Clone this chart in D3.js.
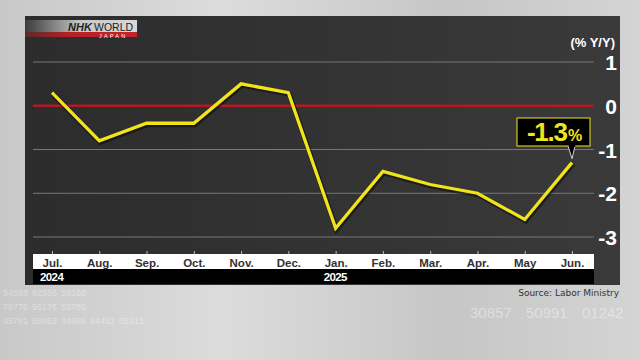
<!DOCTYPE html>
<html><head><meta charset="utf-8">
<script src="https://cdn.jsdelivr.net/npm/d3@7"></script>
<style>html,body{margin:0;padding:0;background:#c4c4c4;}svg{display:block;}</style>
</head><body>
<svg id="c" width="640" height="360"></svg>
<script>
const months = ["Jul.","Aug.","Sep.","Oct.","Nov.","Dec.","Jan.","Feb.","Mar.","Apr.","May","Jun."];
const years = [{i:0,label:"2024"},{i:6,label:"2025"}];
const values = [0.3,-0.8,-0.4,-0.4,0.5,0.3,-2.8,-1.5,-1.8,-2.0,-2.6,-1.3];
const yTicks = [1,0,-1,-2,-3];
const unitLabel = "(% Y/Y)";
const source = "Source: Labor Ministry";
const callout = {value:"-1.3", unit:"%"};
const decoRows = [["54588","92555","50168"],["78776","56176","53785"],["45791","58052","34986","84452","05315"]];
const decoRight = ["30857","50991","01242"];

const F = "Liberation Sans, Arial, sans-serif";
const svg = d3.select("#c");
const defs = svg.append("defs");
const bg = defs.append("linearGradient").attr("id","bg").attr("x1",0).attr("y1",0).attr("x2",1).attr("y2",0);
bg.append("stop").attr("offset","0").attr("stop-color","#c8c8c8");
bg.append("stop").attr("offset","0.35").attr("stop-color","#dcdcdc");
bg.append("stop").attr("offset","0.7").attr("stop-color","#c6c6c6");
bg.append("stop").attr("offset","1").attr("stop-color","#d4d4d4");
svg.append("rect").attr("width",640).attr("height",360).attr("fill","url(#bg)");

// faint decorative digits
const dg = svg.append("g").attr("font-family",F).attr("fill","#fff").attr("fill-opacity",0.4);
decoRows.forEach((row,r)=>{
  dg.selectAll(null).data(row).join("text")
    .attr("x",(d,i)=>3+i*29).attr("y",296+r*14).attr("font-size",9).text(d=>d);
});
dg.selectAll(null).data(decoRight).join("text")
  .attr("x",(d,i)=>470+i*56).attr("y",318).attr("font-size",15).text(d=>d);

const pg = defs.append("linearGradient").attr("id","pg").attr("x1",0).attr("y1",0).attr("x2",1).attr("y2",0);
pg.append("stop").attr("offset","0").attr("stop-color","#2c2c2c");
pg.append("stop").attr("offset","0.6").attr("stop-color","#343434");
pg.append("stop").attr("offset","1").attr("stop-color","#3a3a3a");
svg.append("rect").attr("x",25).attr("y",16).attr("width",595).attr("height",269).attr("fill","url(#pg)");

// logo
const lg = defs.append("linearGradient").attr("id","lg").attr("x1",0).attr("y1",0).attr("x2",1).attr("y2",0);
lg.append("stop").attr("offset","0").attr("stop-color","#3a3a3a");
lg.append("stop").attr("offset","0.5").attr("stop-color","#c8c8c8");
lg.append("stop").attr("offset","1").attr("stop-color","#d8d8d8");
svg.append("rect").attr("x",25).attr("y",20).attr("width",112).attr("height",12).attr("fill","url(#lg)");
const rg = defs.append("linearGradient").attr("id","rg").attr("x1",0).attr("y1",0).attr("x2",1).attr("y2",0);
rg.append("stop").attr("offset","0").attr("stop-color","#5a2a2a");
rg.append("stop").attr("offset","0.4").attr("stop-color","#b82025");
rg.append("stop").attr("offset","1").attr("stop-color","#c8202a");
svg.append("rect").attr("x",25).attr("y",32).attr("width",112).attr("height",5).attr("fill","url(#rg)");
svg.append("text").attr("x",68).attr("y",30.5).attr("font-family",F)
  .attr("font-size",11).attr("font-weight","bold").attr("font-style","italic").attr("fill","#222").text("NHK");
svg.append("text").attr("x",94).attr("y",30.5).attr("font-family",F)
  .attr("font-size",10.5).attr("fill","#222").text("WORLD");
svg.append("text").attr("x",99).attr("y",37.5).attr("font-family",F)
  .attr("font-size",5.5).attr("letter-spacing",2.2).attr("fill","#fff").text("JAPAN");

const x = d3.scalePoint().domain(months).range([52,572]);
const y = d3.scaleLinear().domain([-3,1]).range([237,62]);
const x0 = 33, x1 = 594;

// gridlines
svg.append("g").selectAll("line").data(yTicks.filter(d=>d!==0)).join("line")
  .attr("x1",x0).attr("x2",x1).attr("y1",d=>y(d)).attr("y2",d=>y(d))
  .attr("stroke","#777").attr("stroke-width",1);
svg.append("line").attr("x1",x0).attr("x2",x1).attr("y1",y(0)).attr("y2",y(0))
  .attr("stroke","#b01a20").attr("stroke-width",2.5);

// y axis labels
const yAxis = d3.axisRight(y).tickValues(yTicks).tickSize(0).tickFormat(d=>d<0?"-"+Math.abs(d):d);
const ya = svg.append("g").attr("transform","translate(617,0)").call(yAxis);
ya.select(".domain").remove();
ya.selectAll("text").attr("x",0).attr("text-anchor","end").attr("dy","0.36em")
  .attr("font-family",F).attr("font-weight","bold")
  .attr("font-size",21).attr("fill","#fff");
svg.append("text").attr("x",615).attr("y",47).attr("text-anchor","end")
  .attr("font-family",F).attr("font-weight","bold")
  .attr("font-size",13).attr("fill","#fff").text(unitLabel);

// x band
svg.append("rect").attr("x",x0).attr("y",254).attr("width",x1-x0).attr("height",15).attr("fill","#fff");
svg.append("rect").attr("x",x0).attr("y",269).attr("width",x1-x0).attr("height",15).attr("fill","#000");
const xAxis = d3.axisTop(x).tickSize(3).tickPadding(0);
const xa = svg.append("g").attr("transform","translate(0,254)").call(xAxis);
xa.select(".domain").remove();
xa.selectAll("line").attr("stroke","#bbb");
xa.selectAll("text").attr("y",13).attr("dy",0)
  .attr("font-family",F).attr("font-weight","bold")
  .attr("font-size",11.5).attr("fill","#333");
svg.append("g").selectAll("text").data(years).join("text")
  .attr("x",d=>x(months[d.i])-12).attr("y",281)
  .attr("font-family",F).attr("font-weight","bold")
  .attr("font-size",11.5).attr("letter-spacing",-0.6).attr("fill","#fff").text(d=>d.label);

// line
const line = d3.line().x((d,i)=>x(months[i])).y(d=>y(d));
svg.append("path").datum(values).attr("d",line).attr("fill","none")
  .attr("stroke","#000").attr("stroke-opacity",0.45).attr("stroke-width",5)
  .attr("stroke-linejoin","miter").attr("transform","translate(1,1.5)");
svg.append("path").datum(values).attr("d",line).attr("fill","none")
  .attr("stroke","#f2e41c").attr("stroke-width",3.3).attr("stroke-linejoin","miter");

// callout
const last = values.length-1;
const px = x(months[last]), py = y(values[last]);
const bx = 517, by = 118, bw = 73, bh = 28;
svg.append("path").attr("d",`M${px-4},${by+bh} L${px},${py-4} L${px+3},${by+bh}`)
  .attr("fill","#000").attr("stroke","#fff").attr("stroke-width",0.8);
svg.append("rect").attr("x",bx).attr("y",by).attr("width",bw).attr("height",bh)
  .attr("fill","#000").attr("stroke","#f2e41c").attr("stroke-width",1);
svg.append("rect").attr("x",px-3.3).attr("y",by+bh-1).attr("width",6.6).attr("height",2).attr("fill","#000");
const ct = svg.append("text").attr("x",bx+bw/2+1).attr("y",by+23).attr("text-anchor","middle")
  .attr("font-family",F).attr("font-weight","bold").attr("fill","#f2e41c");
ct.append("tspan").attr("font-size",26).attr("letter-spacing",-1.2).text(callout.value);
ct.append("tspan").attr("font-size",16).attr("dx",1).text(callout.unit);

// source
svg.append("text").attr("x",619).attr("y",296).attr("text-anchor","end")
  .attr("font-family","DejaVu Sans, sans-serif").attr("font-size",9).attr("fill","#333").text(source);
</script>
</body></html>
